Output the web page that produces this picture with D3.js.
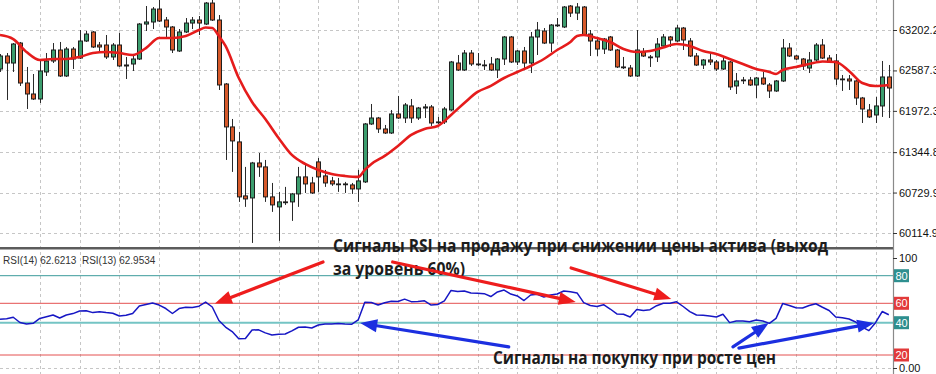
<!DOCTYPE html>
<html>
<head>
<meta charset="utf-8">
<script src="https://cdn.jsdelivr.net/npm/d3@7"></script>
<style>
  html, body { margin: 0; padding: 0; background: #fff; }
  svg { display: block; }
</style>
</head>
<body>
<svg id="chart" width="936" height="374"></svg>
<script>
// candles, one per bar (bar 0 at the left edge)
const opens = [62609,62807,62700,63004,62396,62229,62153,62564,62731,62898,62503,62913,62776,63035,63172,62974,62974,62792,62974,62670,
  62685,62761,63293,63324,63521,63354,63248,62883,63172,63308,63354,63293,63612,63354,62381,61728,61500,60679,60648,61180,
  61120,60664,60512,60588,60588,60709,60968,60876,61196,60983,60907,60861,60861,60846,60785,60892,61773,61864,61697,61636,
  61925,61864,62047,61864,62016,62032,61804,61804,61986,62700,62594,62852,62685,62670,62685,62594,62761,63096,62716,62883,
  62700,63096,63187,63004,63278,63248,63567,63460,63552,63141,63035,62913,63096,62898,62640,62624,62503,62868,62792,62792,
  62959,63096,63035,63232,63035,62807,62670,62746,62716,62609,62716,62351,62442,62442,62366,62472,62366,62275,62427,62928,
  62807,62761,62624,62746,62974,62776,62731,62457,62457,62427,62168,61986,61910,62047,62488]
const highs = [62837,62852,63004,63020,62640,62533,62731,62852,63004,63020,62944,62944,63202,63187,63187,63020,63126,63004,63156,62792,
  62807,63308,63567,63552,63688,63400,63263,63217,63384,63400,63415,63628,63688,63430,62396,61849,61652,61120,61196,61332,
  61226,60876,60740,60816,60724,61120,61150,60968,61256,61074,60968,60952,60892,60876,61074,61788,62077,61880,61758,61986,
  62199,62092,62153,62032,62077,62062,61880,62032,62731,62822,62898,62898,62852,62746,62792,62776,63111,63111,62898,62944,
  63172,63324,63232,63293,63384,63567,63582,63612,63567,63202,63080,63080,63111,62913,62792,62670,63202,62928,62822,63080,
  63141,63111,63278,63248,63080,62852,62761,62852,62746,62792,62731,62548,62488,62488,62488,62564,62396,62442,63065,63004,
  62822,62776,62868,63004,63065,62822,62837,62518,62518,62442,62184,62077,62184,62731,62670]
const lows = [62564,62138,62564,62351,62001,62138,62092,62503,62700,62488,62488,62609,62761,63020,62928,62868,62761,62746,62640,62457,
  62579,62746,63187,63217,63324,63096,62852,62868,63156,63217,63126,63278,63339,62290,61226,61044,60588,60512,59964,60968,
  60588,60436,59995,60542,60299,60512,60724,60709,60740,60816,60831,60740,60724,60709,60588,60876,61758,61636,61621,61621,
  61849,61788,61788,61834,61864,61743,61773,61773,61971,62579,62579,62655,62655,62594,62579,62472,62670,62700,62670,62624,
  62548,62822,62989,62868,63248,63232,63400,63354,63111,62807,62807,62837,62883,62624,62609,62488,62488,62792,62640,62716,
  62944,62944,63020,62898,62792,62655,62609,62670,62579,62594,62290,62229,62381,62351,62168,62366,62168,62260,62412,62792,
  62746,62594,62548,62716,62761,62700,62366,62275,62290,62062,61788,61864,61788,61880,61864]
const closes = [62807,62700,62989,62396,62229,62153,62579,62731,62898,62503,62913,62761,63035,63141,62944,62944,62792,62974,62655,62655,
  62761,63293,63324,63521,63339,63248,62898,63172,63308,63354,63308,63612,63354,62366,61728,61515,60664,60633,61180,61120,
  60664,60542,60588,60580,60709,60968,60861,60724,60968,60876,60861,60855,60855,60785,60907,61773,61864,61697,61636,61925,
  61864,62062,61864,62016,62032,61788,61797,62001,62716,62594,62852,62685,62678,62664,62594,62761,63096,62716,62883,62700,
  63096,63202,63004,63278,63272,63552,63460,63552,63126,63035,62913,63065,62898,62640,62634,62503,62898,62807,62786,62989,
  63096,63050,63232,63050,62807,62670,62746,62716,62609,62731,62336,62427,62436,62366,62472,62381,62275,62427,62928,62807,
  62761,62655,62746,62974,62776,62716,62457,62451,62427,62168,62001,61880,62047,62488,62320]

// moving average (red line), read at these bars
const maBars = [0,2,4,6,8,10,12,14,16,18,20,22,24,26,28,30,31,32,33,34,36,38,40,42,44,46,48,50,52,54,55,56,58,60,62,64,66,68,70,72,74,76,78,80,82,84,86,87,88,
  90,92,94,96,98,100,102,104,106,108,110,112,114,116,117,118,120,122,124,126,128,130,132,134]
const maValues = [63126,63065,62868,62746,62761,62761,62792,62852,62868,62852,62822,62928,63080,63080,63111,63202,63240,63232,63111,62959,
  62472,62108,61849,61560,61302,61165,61074,61013,60983,60968,61074,61165,61287,61439,61606,61697,61743,61910,62092,62260,
  62351,62472,62564,62655,62761,62898,63020,63111,63126,63080,63020,62913,62868,62883,62936,62989,62959,62883,62837,62761,
  62685,62609,62564,62533,62594,62640,62685,62723,62716,62579,62396,62351,62366]

// RSI, one value per bar
const rsiValues = [43.5,44.1,45.6,40.2,39.2,39.6,44.4,46.2,47.9,44.8,
  47.9,49.4,52.1,52.4,50.4,51.3,50.4,49.7,46.9,47.6,
  49.5,57.2,58.8,60.2,58.2,54.6,49.5,54.6,55.9,55.7,
  57.0,60.9,56.2,42.3,37.3,34.5,30.1,30.2,35.5,35.6,
  33.7,32.4,32.8,33.0,34.9,37.2,37.3,36.7,38.6,39.2,
  39.2,39.5,39.2,39.0,42.8,60.7,60.6,58.2,60.4,61.5,
  61.3,63.0,61.2,61.3,61.8,58.2,58.8,61.7,69.3,68.6,
  68.9,67.5,67.2,67.0,64.9,68.2,69.6,66.7,65.3,62.0,
  66.0,66.5,64.6,66.0,66.7,68.9,68.4,67.5,60.5,57.7,
  56.7,58.6,54.1,49.0,48.7,45.9,53.6,52.5,53.4,57.5,
  60.0,60.1,61.1,56.7,51.5,47.9,47.6,46.9,45.9,48.7,
  40.1,41.8,41.8,41.0,42.8,41.8,39.6,44.5,59.7,57.7,
  55.4,55.2,57.7,59.5,55.9,52.6,45.9,45.1,43.8,40.7,
  37.3,35.1,40.0,51.5,48.2]

const priceTicks = [63202.2, 62587.3, 61972.3, 61344.8, 60729.9, 60114.9]
const rsiLevels = [80, 60, 40, 20]
const rsiLevelColors = ['#2e8f8f', '#e23a3a', '#2e8f8f', '#e23a3a']

// arrows: [fromBar, fromRsi, toBar, toRsi]
const sellArrows = [[48.7, 95.5, 32.4, 59.8], [59.2, 95.5, 86.8, 60.9], [86.1, 88.7, 101.2, 63.1]]
const buyArrows = [[76.7, 25.0, 54.3, 39.8], [110.5, 25.0, 115.9, 39.8], [111.4, 24.3, 131.8, 39.8]]

const plotRight = 893
const mainBottom = 247
const rsiTop = 250

const svg = d3.select('#chart')
const x = d3.scaleLinear().domain([0, 134]).range([0, 888.8])
const y = d3.scaleLinear().domain([60114.9, 63202.2]).range([233, 30])
const yr = d3.scaleLinear().domain([0, 20, 40, 60, 80, 100]).range([368, 355, 322.7, 303.3, 275.7, 258])

const defs = svg.append('defs')
defs.append('clipPath').attr('id', 'clipMain')
  .append('rect').attr('x', 0).attr('y', 0).attr('width', plotRight).attr('height', mainBottom)
defs.append('clipPath').attr('id', 'clipRsi')
  .append('rect').attr('x', 0).attr('y', rsiTop).attr('width', plotRight).attr('height', 374 - rsiTop)

// grid
const grid = svg.append('g').attr('stroke', '#c6c6c6').attr('stroke-dasharray', '3,3')
grid.selectAll('line.v')
  .data(d3.range(6, 135, 6))
  .join('line')
  .attr('class', 'v')
  .attr('x1', d => Math.round(x(d)) + 0.5).attr('x2', d => Math.round(x(d)) + 0.5)
  .attr('y1', 0).attr('y2', 374)
grid.selectAll('line.h')
  .data(priceTicks)
  .join('line')
  .attr('class', 'h')
  .attr('x1', 0).attr('x2', plotRight)
  .attr('y1', d => Math.round(y(d)) + 0.5).attr('y2', d => Math.round(y(d)) + 0.5)
grid.append('line')
  .attr('x1', 0).attr('x2', plotRight)
  .attr('y1', Math.round(yr(0)) + 0.5).attr('y2', Math.round(yr(0)) + 0.5)

// rsi levels
svg.append('g').attr('clip-path', 'url(#clipRsi)')
  .selectAll('line')
  .data(rsiLevels)
  .join('line')
  .attr('x1', 0).attr('x2', plotRight)
  .attr('y1', d => yr(d)).attr('y2', d => yr(d))
  .attr('stroke', (d, i) => d === 40 ? '#74c4c4' : (i % 2 ? '#e45050' : '#3b9a9a'))
  .attr('stroke-width', d => d === 40 ? 2 : 1)

// candles
const main = svg.append('g').attr('clip-path', 'url(#clipMain)')
const bars = d3.range(opens.length)
main.append('g').attr('stroke', '#2a2a2a').attr('stroke-width', 1)
  .selectAll('line')
  .data(bars)
  .join('line')
  .attr('x1', i => Math.round(x(i)) + 0.5).attr('x2', i => Math.round(x(i)) + 0.5)
  .attr('y1', i => y(highs[i])).attr('y2', i => y(lows[i]))
main.append('g')
  .selectAll('rect')
  .data(bars)
  .join('rect')
  .attr('x', i => Math.round(x(i)) - 1.5)
  .attr('width', 4)
  .attr('y', i => Math.min(y(opens[i]), y(closes[i])))
  .attr('height', i => Math.max(Math.abs(y(opens[i]) - y(closes[i])), 0.8))
  .attr('fill', i => closes[i] >= opens[i] ? '#3c9d6e' : '#d6592a')
  .attr('stroke', '#1e1e1e')
  .attr('stroke-width', 1)

// moving average
main.append('path')
  .datum(d3.zip(maBars, maValues))
  .attr('fill', 'none')
  .attr('stroke', '#e51c1c')
  .attr('stroke-width', 2.6)
  .attr('stroke-linejoin', 'round')
  .attr('d', d3.line().x(d => x(d[0])).y(d => y(d[1])).curve(d3.curveMonotoneX))

// rsi line
svg.append('g').attr('clip-path', 'url(#clipRsi)')
  .append('path')
  .datum(rsiValues)
  .attr('fill', 'none')
  .attr('stroke', '#1616c4')
  .attr('stroke-width', 1.5)
  .attr('stroke-linejoin', 'round')
  .attr('d', d3.line().x((d, i) => x(i)).y(d => yr(d)))

svg.append('text')
  .attr('x', 3).attr('y', 264)
  .attr('font-family', 'Liberation Sans, Arial, sans-serif')
  .attr('font-size', 10)
  .attr('fill', '#333')
  .style('white-space', 'pre')
  .text('RSI(14) 62.6213  RSI(13) 62.9534')

// pane separator and price axis line
svg.append('rect').attr('x', 0).attr('y', 247).attr('width', plotRight).attr('height', 2.5).attr('fill', '#5c5c5c')
svg.append('line')
  .attr('x1', plotRight + 0.5).attr('x2', plotRight + 0.5).attr('y1', 0).attr('y2', 374)
  .attr('stroke', '#8a8a8a').attr('stroke-width', 1.2)

const axisFont = 'Liberation Sans, Arial, sans-serif'
const priceAxis = svg.append('g')
  .attr('transform', `translate(${plotRight},0)`)
  .call(d3.axisRight(y).tickValues(priceTicks).tickFormat(d3.format('.1f')).tickSize(4).tickPadding(2).tickSizeOuter(0))
priceAxis.select('.domain').remove()
priceAxis.selectAll('text').attr('font-family', axisFont).attr('font-size', 11).attr('fill', '#111')
priceAxis.selectAll('line').attr('stroke', '#333')

const rsiAxis = svg.append('g')
  .attr('transform', `translate(${plotRight},0)`)
  .call(d3.axisRight(yr).tickValues([100, 0]).tickFormat(d => d === 0 ? '0.00' : '100').tickSize(4).tickPadding(2).tickSizeOuter(0))
rsiAxis.select('.domain').remove()
rsiAxis.selectAll('text').attr('font-family', axisFont).attr('font-size', 11).attr('fill', '#111')
rsiAxis.selectAll('line').attr('stroke', '#333')

const levelTags = svg.append('g').selectAll('g')
  .data(rsiLevels)
  .join('g')
  .attr('transform', d => `translate(${plotRight + 1},${yr(d)})`)
levelTags.append('rect')
  .attr('x', 0).attr('y', -6.5).attr('width', 15).attr('height', 13)
  .attr('fill', (d, i) => rsiLevelColors[i])
levelTags.append('text')
  .attr('x', 7.5).attr('y', 4)
  .attr('text-anchor', 'middle')
  .attr('font-family', axisFont).attr('font-size', 11)
  .attr('fill', '#fff')
  .text(d => d)

// annotations
const noteFont = 'Open Sans, Noto Sans, sans-serif'
const notes = [
  { t: 'Сигналы RSI на продажу при снижении цены актива (выход', x: 333, y: 252, w: 495 },
  { t: 'за уровень 60%)', x: 333, y: 275, w: 132 },
  { t: 'Сигналы на покупку при росте цен', x: 493, y: 364, w: 283 }
]
svg.append('g').selectAll('text')
  .data(notes)
  .join('text')
  .attr('x', d => d.x).attr('y', d => d.y)
  .attr('textLength', d => d.w)
  .attr('lengthAdjust', 'spacingAndGlyphs')
  .attr('font-family', noteFont)
  .attr('font-weight', 700)
  .attr('font-size', 18)
  .attr('fill', '#1c1c1c')
  .text(d => d.t)

function drawArrow(g, a, color) {
  const x1 = x(a[0]), y1 = yr(a[1]), x2 = x(a[2]), y2 = yr(a[3])
  const ang = Math.atan2(y2 - y1, x2 - x1)
  const len = 17, half = 6.5
  const bx = x2 - len * Math.cos(ang), by = y2 - len * Math.sin(ang)
  g.append('line')
    .attr('x1', x1).attr('y1', y1).attr('x2', bx).attr('y2', by)
    .attr('stroke', color).attr('stroke-width', 3.2).attr('stroke-linecap', 'round')
  g.append('path')
    .attr('d', `M${x2},${y2}L${bx + half * Math.sin(ang)},${by - half * Math.cos(ang)}L${bx - half * Math.sin(ang)},${by + half * Math.cos(ang)}Z`)
    .attr('fill', color)
}
const arrows = svg.append('g')
sellArrows.forEach(a => drawArrow(arrows, a, '#ee1d1d'))
buyArrows.forEach(a => drawArrow(arrows, a, '#1c2fe0'))
</script>
</body>
</html>
